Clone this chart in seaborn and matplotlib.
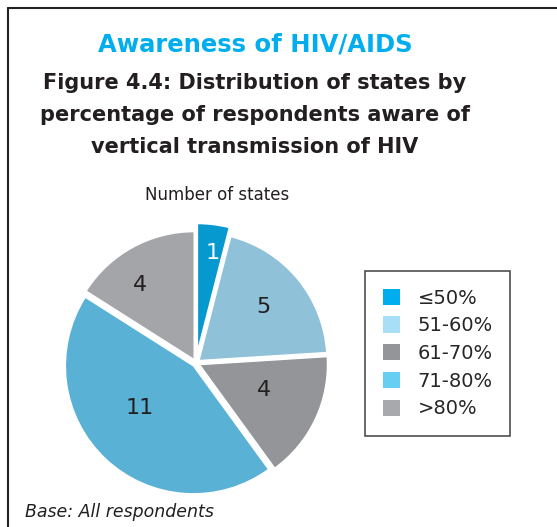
import matplotlib
matplotlib.use("Agg")
import matplotlib.pyplot as plt
import matplotlib.patches as mpatches
from matplotlib.lines import Line2D
import seaborn as sns

# ---- data ----
categories = ["≤50%", "51-60%", "61-70%", "71-80%", ">80%"]
num_states = [1, 5, 4, 11, 4]
wedge_colors = ["#0599cf", "#8fc1d9", "#939598", "#5ab1d6", "#a4a5a9"]
legend_colors = ["#00aeef", "#a9def7", "#939598", "#66cdf3", "#a7a9ac"]
explode = [0.09, 0.03, 0.03, 0.03, 0.03]
# label placement (in pie radius units, relative to centre)
label_pos = [(0.13, 0.86), (0.53, 0.44), (0.53, -0.21), (-0.44, -0.35), (-0.44, 0.61)]

sns.set_style("white")
plt.rcParams['font.family'] = ['DejaVu Sans']

W, H = 557, 527
fig = plt.figure(figsize=(W / 100, H / 100), dpi=100)

def fx(x):
    return x / W

def fy(y):
    return 1 - y / H

# frame lines
fig.add_artist(Line2D([fx(8), fx(557)], [fy(8), fy(8)], color="#222222", lw=1.5))
fig.add_artist(Line2D([fx(8), fx(8)], [fy(8), fy(527)], color="#222222", lw=1.5))

# titles
fig.text(fx(255), fy(44), "Awareness of HIV/AIDS", color="#00aeef",
         fontsize=17.5, fontweight="bold", ha="center", va="center")
sub = ["Figure 4.4: Distribution of states by",
       "percentage of respondents aware of",
       "vertical transmission of HIV"]
for i, line in enumerate(sub):
    fig.text(fx(255), fy(83 + 32 * i), line, color="#231f20",
             fontsize=15, fontweight="bold", ha="center", va="center")

fig.text(fx(217), fy(195), "Number of states", color="#231f20",
         fontsize=12, ha="center", va="center")

# pie axes
cx, cy, half = 196, 363, 150
ax = fig.add_axes([fx(cx - half), fy(cy + half), (2 * half) / W, (2 * half) / H])
R = 128.0
L = half / R
wedges, texts = ax.pie(num_states, colors=wedge_colors, startangle=90,
                       counterclock=False, explode=explode, radius=1,
                       labels=[str(v) for v in num_states], labeldistance=0.62,
                       textprops=dict(fontsize=16, color="#231f20",
                                      ha="center", va="center"))
for t, p in zip(texts, label_pos):
    t.set_position(p)
    t.set_ha("center")
    t.set_va("center")
texts[0].set_color("white")
ax.set_xlim(-L, L)
ax.set_ylim(-L, L)
ax.set_aspect("equal")
ax.axis("off")

# legend
handles = [mpatches.Patch(facecolor=c, edgecolor="none", label=l)
           for c, l in zip(legend_colors, categories)]
leg = fig.legend(handles=handles, loc="upper left",
                 bbox_to_anchor=(fx(365), fy(271)), frameon=True,
                 fancybox=False, edgecolor="#222222", fontsize=14,
                 handlelength=0.9, handleheight=0.9, handletextpad=0.9,
                 labelspacing=0.45, borderpad=0.9, borderaxespad=0)
leg.get_frame().set_linewidth(1.2)

fig.text(fx(25), fy(512), "Base: All respondents", color="#231f20",
         fontsize=12.5, fontstyle="italic", ha="left", va="center")

fig.savefig("out.png", dpi=100)
